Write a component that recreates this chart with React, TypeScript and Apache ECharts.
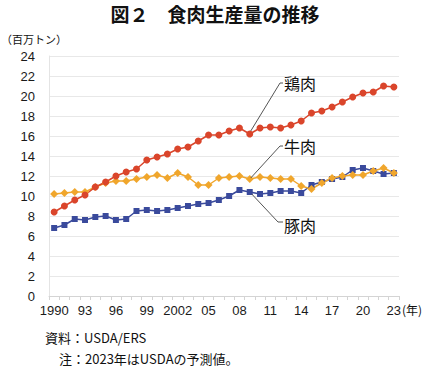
import React, { useEffect, useRef } from "react";
import * as echarts from "echarts";

const years: string[] = [
  "1990","91","92","93","94","95","96","97","98","99","2000","01","02b","03","04","05","06","07","08","09",
  "10","11","12","13","14","15","16","17","18","19","20","21","22","23",
];
const tickLabels: string[] = [
  "1990","91","92","93","94","95","96","97","98","99","2000","01","2002","03","04","05","06","07","08","09",
  "10","11","12","13","14","15","16","17","18","19","20","21","22","23",
];
const chicken: number[] = [
  8.4, 9.0, 9.6, 10.1, 10.9, 11.4, 12.0, 12.4, 12.7, 13.6, 13.9, 14.2, 14.7, 14.9, 15.5, 16.1, 16.1,
  16.5, 16.8, 16.2, 16.8, 16.9, 16.8, 17.1, 17.5, 18.3, 18.5, 18.9, 19.4, 19.9, 20.3, 20.4, 21.0, 20.9,
];
const beef: number[] = [
  10.2, 10.3, 10.4, 10.4, 10.9, 11.3, 11.5, 11.5, 11.7, 11.9, 12.1, 11.8, 12.3, 11.9, 11.1, 11.1, 11.8,
  11.9, 12.0, 11.7, 11.9, 11.8, 11.7, 11.7, 11.0, 10.7, 11.3, 11.8, 12.0, 12.1, 12.1, 12.5, 12.8, 12.3,
];
const pork: number[] = [
  6.8, 7.1, 7.7, 7.6, 7.9, 8.0, 7.6, 7.7, 8.5, 8.6, 8.5, 8.6, 8.8, 9.0, 9.2, 9.3, 9.6,
  10.0, 10.6, 10.4, 10.2, 10.3, 10.5, 10.5, 10.3, 11.1, 11.4, 11.7, 11.9, 12.6, 12.8, 12.5, 12.2, 12.3,
];
const yTicks = { min: 0, max: 24, interval: 2 };

const FONT = "'Liberation Sans', 'Noto Sans CJK JP', sans-serif";
const JP = "'Noto Sans CJK JP', 'Liberation Sans', sans-serif";

export default function App() {
  const ref = useRef<HTMLDivElement>(null);
  useEffect(() => {
    if (!ref.current) return;
    const chart = echarts.init(ref.current, null, { renderer: "svg" });
    chart.setOption({
      animation: false,
      backgroundColor: "#ffffff",
      grid: { left: 49, right: 31, top: 56, bottom: 73 },
      xAxis: {
        type: "category",
        data: years,
        boundaryGap: true,
        axisLine: { show: true, lineStyle: { color: "#d4d4d4", width: 1 } },
        axisTick: { show: true, interval: 0, length: 4, lineStyle: { color: "#d4d4d4" } },
        axisLabel: {
          interval: 2,
          margin: 8,
          fontSize: 13,
          color: "#1a1a1a",
          fontFamily: FONT,
          formatter: (_v: string, i: number) => tickLabels[i],
        },
        splitLine: { show: false },
      },
      yAxis: {
        type: "value",
        min: yTicks.min,
        max: yTicks.max,
        interval: yTicks.interval,
        axisLine: { show: true, lineStyle: { color: "#e4e4e4" } },
        axisTick: { show: false },
        axisLabel: { fontSize: 13, color: "#1a1a1a", margin: 14, fontFamily: FONT },
        splitLine: { show: true, lineStyle: { color: "#e8e8e8", width: 1 } },
      },
      series: [
        {
          name: "豚肉",
          type: "line",
          data: pork,
          symbol: "rect",
          symbolSize: 6,
          showAllSymbol: true,
          lineStyle: { color: "#3a4a9c", width: 1.5 },
          itemStyle: { color: "#3a4a9c" },
        },
        {
          name: "牛肉",
          type: "line",
          data: beef,
          symbol: "diamond",
          symbolSize: 8,
          showAllSymbol: true,
          lineStyle: { color: "#f0a62c", width: 1.5 },
          itemStyle: { color: "#f0a62c" },
        },
        {
          name: "鶏肉",
          type: "line",
          data: chicken,
          symbol: "circle",
          symbolSize: 7,
          showAllSymbol: true,
          lineStyle: { color: "#da452b", width: 1.5 },
          itemStyle: { color: "#da452b" },
        },
      ],
    });

    const p = (i: number, v: number) => chart.convertToPixel({ gridIndex: 0 }, [i, v]) as number[];
    const c = p(19, chicken[19]);
    const b = p(19, beef[19]);
    const k = p(19, pork[19]);
    const lineStyle = { stroke: "#555555", lineWidth: 1 };
    chart.setOption({
      graphic: [
        {
          type: "text",
          left: "center",
          top: 4,
          style: { text: "図２　食肉生産量の推移", fontSize: 19, fontWeight: "bold", fill: "#111", fontFamily: JP },
        },
        {
          type: "text",
          x: 1,
          y: 33,
          style: { text: "（百万トン）", fontSize: 11, fill: "#111", fontFamily: JP },
        },
        {
          type: "text",
          x: 402,
          y: 303,
          style: { text: "(年)", fontSize: 12, fill: "#111", fontFamily: JP },
        },
        {
          type: "text",
          x: 45,
          y: 331,
          style: { text: "資料：USDA/ERS", fontSize: 13, fill: "#111", fontFamily: JP },
        },
        {
          type: "text",
          x: 59,
          y: 352,
          style: { text: "注：2023年はUSDAの予測値。", fontSize: 13, fill: "#111", fontFamily: JP },
        },
        { type: "text", x: 284, y: 75, style: { text: "鶏肉", fontSize: 16, fill: "#111", fontFamily: JP } },
        { type: "text", x: 284, y: 138, style: { text: "牛肉", fontSize: 16, fill: "#111", fontFamily: JP } },
        { type: "text", x: 284, y: 217, style: { text: "豚肉", fontSize: 16, fill: "#111", fontFamily: JP } },
        {
          type: "polyline",
          shape: { points: [[c[0] + 1, c[1] - 3], [280, 83], [283, 83]] },
          style: { ...lineStyle, fill: null },
          z: 10,
        },
        {
          type: "polyline",
          shape: { points: [[b[0] + 1, b[1] - 1], [280, 146], [283, 146]] },
          style: { ...lineStyle, fill: null },
          z: 10,
        },
        {
          type: "polyline",
          shape: { points: [[k[0] + 2, k[1] + 2], [278, 222], [283, 222]] },
          style: { ...lineStyle, fill: null },
          z: 10,
        },
      ],
    });
    return () => chart.dispose();
  }, []);
  return <div ref={ref} style={{ width: 430, height: 369, position: "absolute", left: 0, top: 0 }} />;
}
